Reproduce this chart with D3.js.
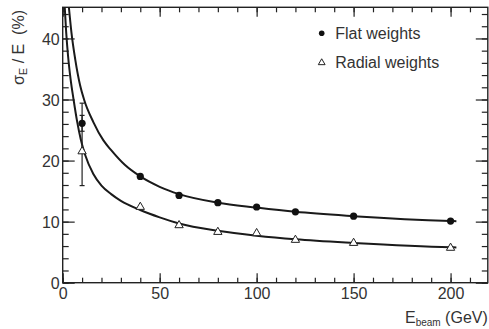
<!DOCTYPE html>
<html>
<head>
<meta charset="utf-8">
<script src="https://cdn.jsdelivr.net/npm/d3@7"></script>
<style>
  body { margin: 0; background: #fff; }
  text { font-family: "Liberation Sans", Arial, sans-serif; fill: #333; }
</style>
</head>
<body>
<div class="chart"></div>
<script>
// measured points (E in GeV, sigma/E in %)
const flatE = [10, 40, 60, 80, 100, 120, 150, 200];
const flatRes = [26.1, 17.4, 14.3, 13.1, 12.4, 11.6, 10.9, 10.1];
const radialE = [10, 40, 60, 80, 100, 120, 150, 200];
const radialRes = [21.5, 12.4, 9.4, 8.3, 8.1, 7.0, 6.5, 5.7];

// error bars at the first point [low, high]
const flatErr = [[24.8, 27.4]];
const radialErr = [[15.9, 29.4]];

// fitted curves
const flatFitE = [3.1, 4.5, 6.5, 9, 11, 15.8, 21, 25, 32, 40, 50, 60, 80, 100, 120, 150, 200, 203];
const flatFitRes = [45.4, 41, 36.5, 32.3, 30, 26.3, 23.3, 21.7, 19.3, 17.4, 15.7, 14.5, 13.1, 12.3, 11.6, 10.9, 10.1, 10.07];
const radialFitE = [1.0, 1.8, 2.8, 4.0, 5.6, 7.5, 9.3, 11.5, 15.8, 20, 25, 30, 40, 50, 60, 80, 100, 120, 150, 200, 203];
const radialFitRes = [45.4, 41, 37, 33.5, 30, 26.3, 23.5, 21.0, 17.8, 15.9, 14.5, 13.4, 11.9, 10.7, 9.7, 8.5, 7.7, 7.1, 6.5, 5.8, 5.78];

const xMajor = [0, 50, 100, 150, 200];
const xMinor = d3.range(0, 220, 10);
const yMajor = [0, 10, 20, 30, 40];
const yMinor = d3.range(0, 46, 2);

const legendLabels = ["Flat weights", "Radial weights"];

const W = 489, H = 329;
const plotL = 62.7, plotR = 487.8, plotT = 7.3, plotB = 282.7;

const svg = d3.select(".chart").append("svg")
    .attr("width", W)
    .attr("height", H);

const x = d3.scaleLinear().domain([0, 219.2]).range([plotL, plotR]);
const y = d3.scaleLinear().domain([0, 45.1]).range([plotB, plotT]);

svg.append("clipPath").attr("id", "plot")
    .append("rect")
    .attr("x", plotL).attr("y", plotT)
    .attr("width", plotR - plotL).attr("height", plotB - plotT);

// axes: minor ticks, then major ticks with labels
function drawAxis(axisFn, transform, values, size, labels) {
    const g = svg.append("g")
        .attr("transform", transform)
        .call(axisFn.tickValues(values).tickSizeInner(size).tickSizeOuter(0).tickPadding(3)
            .tickFormat(labels ? d3.format("d") : ""));
    g.select(".domain").remove();
    g.selectAll("line").attr("stroke", "#222").attr("stroke-width", 1.2);
    g.selectAll("text").attr("font-size", 16).attr("fill", "#333");
    return g;
}

drawAxis(d3.axisBottom(x), `translate(0,${plotB})`, xMinor, -5, false);
const xg = drawAxis(d3.axisBottom(x), `translate(0,${plotB})`, xMajor, -9.5, true);
xg.selectAll("text").attr("dy", "0.85em");
drawAxis(d3.axisTop(x), `translate(0,${plotT})`, xMinor, -5, false);
drawAxis(d3.axisTop(x), `translate(0,${plotT})`, xMajor, -9.5, false);

drawAxis(d3.axisLeft(y), `translate(${plotL},0)`, yMinor, -6, false);
const yg = drawAxis(d3.axisLeft(y), `translate(${plotL},0)`, yMajor, -12, true);
yg.selectAll("text").attr("dy", "0.36em");
drawAxis(d3.axisRight(y), `translate(${plotR},0)`, yMinor, -6, false);
drawAxis(d3.axisRight(y), `translate(${plotR},0)`, yMajor, -12, false);

// frame
svg.append("rect")
    .attr("x", plotL).attr("y", plotT)
    .attr("width", plotR - plotL).attr("height", plotB - plotT)
    .attr("fill", "none")
    .attr("stroke", "#222")
    .attr("stroke-width", 1.4);

// axis titles
const xt = svg.append("text")
    .attr("x", plotR)
    .attr("y", 323)
    .attr("text-anchor", "end")
    .attr("font-size", 16);
xt.append("tspan").text("E");
xt.append("tspan").attr("font-size", 10).attr("dy", 3).text("beam");
xt.append("tspan").attr("dy", -3).text(" (GeV)");

const yt = svg.append("text")
    .attr("transform", "translate(24,10) rotate(-90)")
    .attr("text-anchor", "end")
    .attr("font-size", 16);
yt.append("tspan").text("σ");
yt.append("tspan").attr("font-size", 11).attr("dy", 3).text("E");
yt.append("tspan").attr("dy", -3).text(" / E \u00a0(%)");

// fit curves
const line = d3.line()
    .x(d => x(d[0]))
    .y(d => y(d[1]))
    .curve(d3.curveMonotoneX);

const curves = svg.append("g").attr("clip-path", "url(#plot)");
[[flatFitE, flatFitRes], [radialFitE, radialFitRes]].forEach(([es, rs]) => {
    curves.append("path")
        .datum(es.map((e, i) => [e, rs[i]]))
        .attr("fill", "none")
        .attr("stroke", "#1a1a1a")
        .attr("stroke-width", 2)
        .attr("d", line);
});

// error bars
function errorBars(es, errs) {
    errs.forEach((r, i) => {
        const cx = x(es[i]);
        svg.append("line")
            .attr("x1", cx).attr("x2", cx)
            .attr("y1", y(r[0])).attr("y2", y(r[1]))
            .attr("stroke", "#222").attr("stroke-width", 1.2);
        r.forEach(v => {
            svg.append("line")
                .attr("x1", cx - 2.5).attr("x2", cx + 2.5)
                .attr("y1", y(v)).attr("y2", y(v))
                .attr("stroke", "#222").attr("stroke-width", 1.2);
        });
    });
}
errorBars(radialE, radialErr);
errorBars(flatE, flatErr);

const tri = d3.symbol().type(d3.symbolTriangle);

// points
svg.selectAll(".flat")
    .data(flatE.map((e, i) => [e, flatRes[i]]))
    .enter().append("circle")
    .attr("class", "flat")
    .attr("cx", d => x(d[0]))
    .attr("cy", d => y(d[1]))
    .attr("r", 3.6)
    .attr("fill", "#111");

svg.selectAll(".radial")
    .data(radialE.map((e, i) => [e, radialRes[i]]))
    .enter().append("path")
    .attr("class", "radial")
    .attr("transform", d => `translate(${x(d[0])},${y(d[1])})`)
    .attr("d", tri.size(30)())
    .attr("fill", "#fff")
    .attr("stroke", "#222")
    .attr("stroke-width", 1);

// legend
const legend = svg.append("g").attr("transform", "translate(321.7,33.3)");
legend.append("circle").attr("r", 2.8).attr("fill", "#111");
legend.append("path")
    .attr("transform", "translate(0,29.4)")
    .attr("d", tri.size(20)())
    .attr("fill", "#fff")
    .attr("stroke", "#222")
    .attr("stroke-width", 1);
legend.selectAll(".lbl")
    .data(legendLabels)
    .enter().append("text")
    .attr("class", "lbl")
    .attr("x", 13.5)
    .attr("y", (d, i) => i * 29.4)
    .attr("dy", "0.36em")
    .attr("font-size", 16)
    .text(d => d);
</script>
</body>
</html>
